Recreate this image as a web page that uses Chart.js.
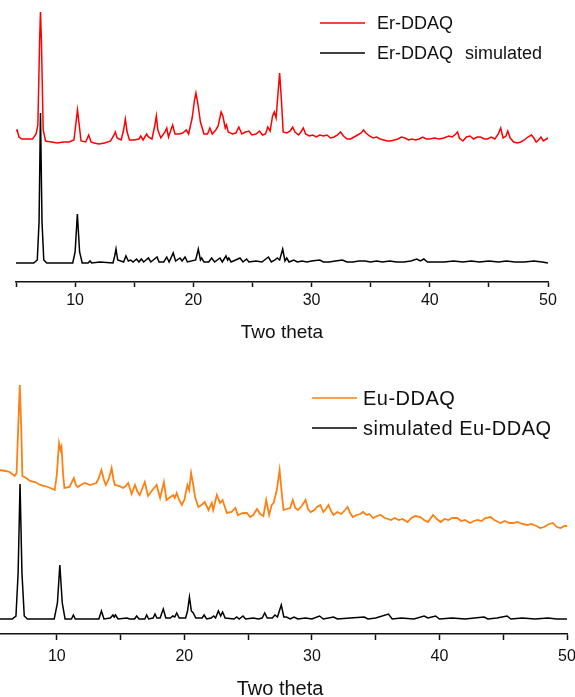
<!DOCTYPE html>
<html>
<head>
<meta charset="utf-8">
<script src="https://cdn.jsdelivr.net/npm/chart.js@4"></script>
<style>
  html, body { margin:0; padding:0; background:#fff; overflow:hidden; width:575px; height:697px; }
  #wrap { position:relative; width:575px; height:697px; overflow:hidden; }
  #c1 { position:absolute; left:0; top:0; }
  #c2 { position:absolute; left:-14px; top:345px; }
</style>
</head>
<body>
<div id="wrap">
  <canvas id="c1" width="575" height="345" style="width:575px;height:345px"></canvas>
  <canvas id="c2" width="610" height="354" style="width:610px;height:354px"></canvas>
</div>
<script>
// ---------- DATA (two theta in degrees, intensity in arbitrary units) ----------
const labeledTicks = [10, 20, 30, 40, 50];
const axisTitle = 'Two theta';

const erLabel = 'Er-DDAQ';
const erTheta = [5.0,5.1,5.25,5.5,6.0,6.4,6.7,6.85,7.0,7.07,7.15,7.3,7.5,8.0,8.5,9.0,9.5,9.9,10.05,10.2,10.35,10.5,10.9,11.15,11.35,11.6,12.0,12.5,13.0,13.25,13.4,13.55,13.9,14.1,14.25,14.4,14.6,15.0,15.4,15.55,15.75,16.05,16.2,16.5,16.75,16.87,17.0,17.25,17.6,17.75,17.9,18.1,18.25,18.45,18.8,19.1,19.4,19.6,19.9,20.1,20.22,20.4,20.6,20.9,21.2,21.4,21.6,21.9,22.1,22.35,22.5,22.7,22.8,22.95,23.3,23.6,23.85,24.1,24.4,24.7,24.95,25.3,25.6,25.85,26.1,26.3,26.5,26.7,26.85,27.0,27.15,27.3,27.45,27.6,27.9,28.2,28.4,28.6,28.9,29.1,29.3,29.5,29.8,30.1,30.4,30.7,31.0,31.3,31.6,31.9,32.2,32.45,32.7,33.0,33.3,33.6,33.9,34.2,34.4,34.6,34.9,35.2,35.5,35.8,36.1,36.4,36.7,37.0,37.3,37.6,37.9,38.2,38.5,38.8,39.1,39.4,39.7,40.0,40.4,40.8,41.2,41.6,41.9,42.2,42.35,42.5,42.8,43.1,43.4,43.7,44.0,44.3,44.6,44.9,45.2,45.5,45.8,46.0,46.2,46.45,46.6,46.8,47.1,47.4,47.7,48.0,48.3,48.6,48.8,49.0,49.2,49.4,49.6,50.0];
const erCounts = [151,152,145,143,143,143,148,157,242,270,242,152,141,140,139,140,140,142,157,172,157,141,140,147,140,139,138,139,141,146,150,144,142,152,163,150,142,142,143,146,142,148,145,143,157,166,152,144,150,154,145,152,157,148,148,149,152,148,164,182,189,177,160,148,148,154,148,152,156,170,166,154,157,150,148,149,155,148,150,151,147,148,151,147,148,155,151,166,170,164,187,209,182,150,149,151,155,150,147,150,154,148,146,147,145,147,146,147,144,145,147,150,146,143,143,145,147,149,152,149,146,144,145,143,142,141,141,142,143,145,144,142,143,142,143,145,143,143,144,143,144,146,145,148,150,144,141,145,146,143,145,145,143,143,145,143,148,154,144,146,151,144,140,139,140,142,145,147,144,140,142,145,141,144];

const erSimLabel = 'Er-DDAQ simulated';
const erSimTheta = [5.0,6.5,6.8,6.95,7.07,7.2,7.35,7.6,9.8,10.0,10.19,10.38,10.6,11.1,11.26,11.4,12.1,13.2,13.35,13.46,13.6,14.1,14.3,14.5,14.7,14.9,15.2,15.4,15.6,15.8,16.2,16.4,16.93,17.1,17.5,17.75,17.95,18.3,18.5,18.87,19.05,19.3,19.5,20.2,20.42,20.6,20.7,20.9,21.3,21.55,21.8,22.25,22.45,22.76,22.9,23.0,23.2,23.95,24.2,24.5,24.7,25.3,25.8,26.35,26.6,26.9,27.1,27.3,27.56,27.75,27.9,28.1,28.5,28.8,29.2,29.6,30.0,30.7,31.0,31.5,32.0,32.6,33.0,33.5,34.0,34.5,35.0,35.5,36.0,36.6,37.2,37.8,38.4,38.9,39.2,39.5,39.8,40.5,41.2,42.0,42.8,43.5,44.2,45.0,45.8,46.5,47.2,48.0,48.8,49.5,50.0];
const erSimCounts = [19,19,22,60,169,60,22,19,19,30,68,30,19,19,21,19,20,19,26,33,22,20,26,21,22,20,23,20,23,20,24,20,25,20,20,25,20,29,21,24,21,25,20,22,33,22,24,20,20,24,20,24,20,26,22,24,20,24,20,23,20,21,20,25,20,22,24,22,33,21,24,20,22,20,21,20,21,22,20,20,21,22,20,20,21,21,20,21,20,21,20,20,21,23,21,23,20,20,20,21,20,21,20,21,20,21,20,20,21,20,19];

const euLabel = 'Eu-DDAQ';
const euTheta = [5.5,6.0,6.3,6.7,6.85,6.97,7.1,7.22,7.3,7.6,7.9,8.3,8.7,9.05,9.5,9.84,10.0,10.18,10.3,10.37,10.5,10.6,11.0,11.34,11.5,11.65,12.0,12.2,12.6,13.1,13.3,13.5,13.7,13.85,14.1,14.3,14.45,14.56,14.9,15.2,15.4,15.6,15.87,16.13,16.3,16.5,16.9,17.15,17.5,17.83,18.1,18.4,18.6,18.9,19.14,19.25,19.4,19.6,19.8,20.0,20.24,20.38,20.53,20.7,20.84,21.1,21.35,21.6,21.9,22.15,22.26,22.55,22.8,23.0,23.33,23.7,24.0,24.2,24.6,24.9,25.16,25.4,25.7,25.95,26.2,26.42,26.65,26.85,27.0,27.25,27.47,27.65,27.78,28.0,28.3,28.5,28.7,28.9,29.2,29.5,29.7,29.9,30.2,30.4,30.66,30.9,31.1,31.3,31.5,31.7,32.0,32.3,32.6,32.8,33.0,33.2,33.5,33.8,34.0,34.3,34.5,34.8,35.1,35.4,35.7,36.0,36.2,36.5,36.8,37.1,37.5,37.8,38.1,38.5,38.8,39.1,39.5,39.8,40.1,40.4,40.7,41.0,41.4,41.7,42.0,42.4,42.7,43.0,43.3,43.6,44.0,44.3,44.6,44.8,45.1,45.5,45.8,46.1,46.5,46.9,47.2,47.6,47.9,48.2,48.6,48.9,49.2,49.5,49.8,50.0];
const euCounts = [163,162,161,157,160,203,248,203,157,155,152,151,148,147,145,143,158,190,183,186,158,145,146,155,148,146,149,150,148,150,155,163,153,148,155,165,153,148,147,145,147,150,139,148,142,138,151,137,143,148,135,151,133,136,138,135,140,133,128,133,148,143,160,148,136,126,128,131,123,130,123,138,130,133,120,121,125,118,120,120,116,118,124,119,117,133,118,128,130,143,163,138,123,124,125,133,125,123,127,133,124,121,123,126,128,121,124,128,122,118,121,119,123,126,120,116,118,119,121,118,119,115,117,118,115,114,113,115,113,114,111,115,117,116,113,111,118,114,111,114,113,115,115,112,113,110,112,113,112,115,116,113,111,110,112,110,110,111,109,108,109,107,105,106,109,110,106,105,107,107];

const euSimLabel = 'simulated Eu-DDAQ';
const euSimTheta = [5.5,6.5,6.8,6.97,7.12,7.27,7.45,7.7,9.8,10.05,10.24,10.43,10.65,11.15,11.3,11.45,13.3,13.5,13.7,14.2,14.4,14.5,14.6,14.8,15.5,15.7,16.1,16.26,16.45,16.9,17.05,17.2,17.55,17.7,17.85,18.1,18.35,18.55,18.9,19.1,19.25,19.4,19.6,20.1,20.25,20.4,20.55,20.7,20.9,21.4,21.55,21.75,22.1,22.3,22.45,22.67,22.85,23.0,23.2,23.9,24.1,24.3,24.6,24.8,25.4,25.8,26.1,26.3,26.5,26.9,27.1,27.3,27.6,27.8,28.0,28.3,28.6,28.9,29.5,30.0,30.6,30.9,31.7,32.0,33.0,34.1,34.4,35.0,36.0,36.3,37.0,38.0,38.8,39.1,39.7,40.0,41.0,42.0,43.5,43.8,44.5,45.3,45.6,46.5,47.5,48.5,49.2,50.0];
const euSimCounts = [14,14,17,60,149,60,17,14,14,30,68,30,14,14,18,14,14,22,14,15,18,16,18,14,15,14,14,17,14,14,18,14,15,19,15,15,24,15,15,17,16,20,15,15,22,36,22,20,15,15,18,14,15,17,15,22,17,21,15,14,16,14,17,14,15,14,15,20,15,15,18,16,28,16,16,14,16,14,15,14,17,14,16,14,15,16,14,15,19,14,15,14,17,15,17,14,15,14,16,14,15,17,14,15,14,15,14,14];

// ---------- helpers ----------
const zip = (xs, ys) => xs.map((x, i) => ({ x: x, y: ys[i] }));

const inlineLegend = {
  id: 'inlineLegend',
  afterDraw(chart, args, opts) {
    const ctx = chart.ctx;
    ctx.save();
    ctx.font = opts.font;
    if ('letterSpacing' in ctx) ctx.letterSpacing = opts.letterSpacing || '0px';
    if ('wordSpacing' in ctx) ctx.wordSpacing = opts.wordSpacing || '0px';
    ctx.textBaseline = 'middle';
    ctx.textAlign = 'left';
    chart.data.datasets.forEach((ds, i) => {
      const y = opts.y + i * opts.gap;
      ctx.strokeStyle = ds.borderColor;
      ctx.lineWidth = 1.6;
      ctx.beginPath();
      ctx.moveTo(opts.x, y);
      ctx.lineTo(opts.x + opts.lineLen, y);
      ctx.stroke();
      ctx.fillStyle = '#111';
      ctx.fillText(ds.label, opts.x + opts.lineLen + opts.textGap, y + 1);
    });
    ctx.restore();
  }
};

function makeOptions(cfg) {
  return {
    responsive: false,
    animation: false,
    events: [],
    layout: { padding: cfg.padding },
    plugins: {
      legend: { display: false },
      tooltip: { enabled: false },
      inlineLegend: cfg.legend
    },
    elements: { point: { radius: 0 }, line: { tension: 0 } },
    scales: {
      x: {
        type: 'linear',
        min: 5, max: 50,
        afterFit: (s) => { s.height = cfg.axisHeight; },
        ticks: {
          stepSize: 5,
          autoSkip: false,
          maxRotation: 0,
          padding: cfg.tickPad,
          color: '#111',
          font: { family: 'Liberation Sans, Arial, sans-serif', size: cfg.tickSize },
          callback: (v) => labeledTicks.includes(v) ? String(v) : ''
        },
        grid: {
          drawOnChartArea: false,
          drawTicks: true,
          tickLength: cfg.tickLen,
          tickWidth: 1.5,
          tickColor: '#111'
        },
        border: { display: true, color: '#111', width: 1.5 },
        title: {
          display: true,
          text: axisTitle,
          color: '#111',
          padding: { top: 0, bottom: cfg.titlePad },
          font: { family: 'Liberation Sans, Arial, sans-serif', size: cfg.titleSize, lineHeight: 1 }
        }
      },
      y: { display: false, min: cfg.yMin, max: cfg.yMax }
    }
  };
}

new Chart(document.getElementById('c1'), {
  type: 'line',
  data: {
    datasets: [
      { label: erLabel, data: zip(erTheta, erCounts), borderColor: '#ff0000', borderWidth: 1.5, fill: false },
      { label: erSimLabel, data: zip(erSimTheta, erSimCounts), borderColor: '#000000', borderWidth: 1.5, fill: false }
    ]
  },
  options: makeOptions({
    padding: { left: 16, right: 27, top: 0, bottom: 0 },
    axisHeight: 63, tickPad: 4, tickLen: 5, tickSize: 16, titlePad: 3, titleSize: 19,
    yMin: 0, yMax: 282,
    legend: { x: 320, y: 23, gap: 30, lineLen: 45, textGap: 12, wordSpacing: '7px', font: '18px "Liberation Sans", Arial, sans-serif' }
  }),
  plugins: [inlineLegend]
});

new Chart(document.getElementById('c2'), {
  type: 'line',
  data: {
    datasets: [
      { label: euLabel, data: zip(euTheta, euCounts), borderColor: '#ff8012', borderWidth: 1.8, fill: false },
      { label: euSimLabel, data: zip(euSimTheta, euSimCounts), borderColor: '#000000', borderWidth: 1.5, fill: false }
    ]
  },
  options: makeOptions({
    padding: { left: 0, right: 29, top: 0, bottom: 0 },
    axisHeight: 65, tickPad: 7, tickLen: 6, tickSize: 16, titlePad: 0, titleSize: 20,
    yMin: -1, yMax: 288,
    legend: { x: 326, y: 53, gap: 30, lineLen: 45, textGap: 6, letterSpacing: '0.5px', font: '20px "Liberation Sans", Arial, sans-serif' }
  }),
  plugins: [inlineLegend]
});
</script>
</body>
</html>
